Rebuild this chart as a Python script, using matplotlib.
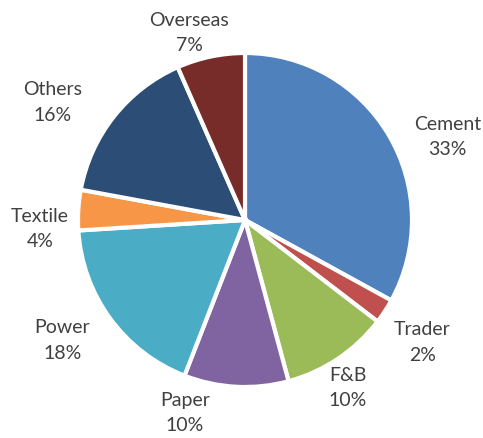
import matplotlib.pyplot as plt
import numpy as np

sectors = ['Cement', 'Trader', 'F&B', 'Paper', 'Power', 'Textile', 'Others', 'Overseas']
shares = [33.0, 2.4, 10.4, 10.1, 18.1, 3.9, 15.5, 6.6]
pct_labels = ['33%', '2%', '10%', '10%', '18%', '4%', '16%', '7%']
colors = ['#4F81BD', '#C0504D', '#9BBB59', '#8064A2', '#4BACC6', '#F79646', '#2C4D75', '#772C2A']

# label placement (radius multiple, angle nudge in degrees) per sector, Excel-ish
label_dist = [1.31, 1.29, 1.18, 1.21, 1.31, 1.23, 1.35, 1.17]
label_nudge = [-8.3, -1.5, -2.3, -14.2, -2.7, 5.9, 6.9, 4.7]

plt.rcParams['font.family'] = ['Lato', 'DejaVu Sans']

fig = plt.figure(figsize=(4.83, 4.38), dpi=100)
r_px = 167
ax = fig.add_axes([(245 - r_px) / 483, (438 - 220 - r_px) / 438, 2 * r_px / 483, 2 * r_px / 438])

wedges, _ = ax.pie(shares, colors=colors, startangle=90, counterclock=False,
                   wedgeprops=dict(edgecolor='white', linewidth=3))
ax.set_xlim(-1, 1)
ax.set_ylim(-1, 1)
ax.set_aspect('equal')
ax.axis('off')

for w, name, pct, d, nudge in zip(wedges, sectors, pct_labels, label_dist, label_nudge):
    ang = np.deg2rad((w.theta1 + w.theta2) / 2 + nudge)
    ax.text(d * np.cos(ang), d * np.sin(ang), name + '\n' + pct, ha='center', va='center',
            fontsize=14, color='#404040', linespacing=1.6)

fig.savefig('out.png', dpi=100)
